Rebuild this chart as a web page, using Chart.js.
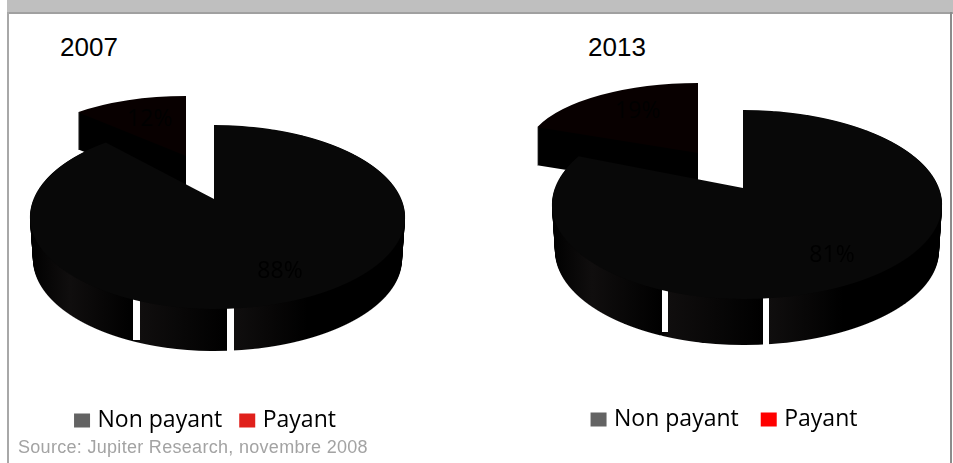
<!DOCTYPE html>
<html lang="fr">
<head>
<meta charset="utf-8">
<title>Non payant / Payant</title>
<script src="https://cdn.jsdelivr.net/npm/chart.js@4/dist/chart.umd.min.js"></script>
<style>
  html, body { margin: 0; padding: 0; background: #fff; overflow: hidden; }
  body { width: 953px; height: 463px; position: relative; }
  .band { position: absolute; left: 7px; top: 0; width: 946px; height: 12px; background: #bfbfbf; border-bottom: 2px solid #a0a0a0; }
  .side-left { position: absolute; left: 7px; top: 12px; width: 2px; height: 451px; background: #a8a8a8; }
  .side-right { position: absolute; left: 950px; top: 12px; width: 2px; height: 451px; background: #8c8c8c; }
  .year { position: absolute; top: 32px; font: 26px "Liberation Sans", sans-serif; color: #000; }
  #source { position: absolute; left: 18px; top: 437px; font: 18px "Liberation Sans", sans-serif; letter-spacing: 0.3px; color: #a3a3a3; white-space: nowrap; }
  canvas { position: absolute; top: 0; }
</style>
</head>
<body>
<div class="band"></div>
<div class="side-left"></div>
<div class="side-right"></div>
<div class="year" style="left:60px">2007</div>
<div class="year" style="left:588px">2013</div>
<canvas id="pie2007" width="414" height="444" style="left:0"></canvas>
<canvas id="pie2013" width="452" height="443" style="left:500px"></canvas>
<div id="source">Source: Jupiter Research, novembre 2008</div>

<script>
const categories = ['Non payant', 'Payant'];
const values2007 = [88, 12];
const values2013 = [81, 19];
const legendGrey = '#636363';
const legendRed2007 = '#e0201b';
const legendRed2013 = '#ff0000';

// near black faces, as in the picture
const faceMain = '#080808';
const facePaid = '#080000';
const wallDark = '#000000';
const wallLight = '#100e0e';

// fake 3D. The pulled out slice is just squashed. The main slice is drawn
// row by row with a perspective stretch, so the tip sits above the middle of
// the ellipse. x,y is the tip, left/right/up/down how far the rim is from it
function pie3d(chart, conf) {
  const ctx = chart.ctx;
  const arcs = chart.getDatasetMeta(0).data;
  const main = arcs[0];
  const paid = arcs[1];
  const w = chart.width;
  const h = chart.height;

  function withColor(arc, color, fn) {
    const saved = arc.options;
    arc.options = Object.assign(Object.create(saved), { backgroundColor: color });
    fn();
    arc.options = saved;
  }

  function drawSquashed(arc, p, dy, color) {
    withColor(arc, color, () => {
      ctx.save();
      ctx.translate(p.x, p.y + dy);
      ctx.scale(p.rx / arc.outerRadius, p.ry / arc.outerRadius);
      ctx.translate(-arc.x, -arc.y);
      arc.draw(ctx);
      ctx.restore();
    });
  }

  function drawRow(arc, m, row, dy, halfWidth, x0, x1, k, b) {
    const r = arc.outerRadius;
    const Y = row + 0.5;
    const v = Y / (b + k * Y);
    const q = 1 - k * v;
    const a = halfWidth * Math.sqrt(1 - k * k);
    ctx.save();
    ctx.beginPath();
    ctx.rect(x0, m.y + dy + row, x1 - x0, 1);
    ctx.clip();
    ctx.translate(m.x, m.y + dy + Y);
    ctx.scale(a / q / r, b / (q * q) / r);
    ctx.translate(-arc.x, -(arc.y + v * r));
    arc.draw(ctx);
    ctx.restore();
  }

  function drawMain(arc, m, fromRow, dy, shrink, color) {
    const k = (m.down - m.up) / (m.down + m.up);
    const b = m.down * (1 - k);
    withColor(arc, color, () => {
      for (let row = fromRow; row < m.down; row++) {
        drawRow(arc, m, row, dy, m.left - shrink, 0, m.x, k, b);
        drawRow(arc, m, row, dy, m.right - shrink, m.x, w, k, b);
      }
    });
  }

  // pulled out slice
  const p = conf.paid;
  for (let d = p.depth; d > 0; d--) {
    drawSquashed(paid, p, d, wallDark);
  }
  drawSquashed(paid, p, 0, facePaid);

  // main slice, wall first
  const m = conf.main;
  const bottom = m.y + m.down + m.depth + 1;
  for (let d = m.depth; d > 0; d--) {
    drawMain(main, m, 0, d, 3 * d / m.depth, wallDark);
  }

  // soft vertical bands on the wall, restarting after each gap
  const x0 = m.x - m.left;
  const span = m.left + m.right;
  const shade = ctx.createLinearGradient(x0, 0, x0 + span, 0);
  const stop = x => Math.min(1, Math.max(0, (x - x0) / span));
  shade.addColorStop(0, wallDark);
  shade.addColorStop(stop(x0 + 40), wallLight);
  conf.gaps.forEach(g => {
    shade.addColorStop(stop(g.x), wallDark);
    shade.addColorStop(stop(g.x + g.w), wallLight);
  });
  const last = conf.gaps[conf.gaps.length - 1];
  shade.addColorStop(stop(last.x + 80), wallDark);
  shade.addColorStop(1, wallDark);
  ctx.save();
  ctx.globalCompositeOperation = 'source-atop';
  ctx.fillStyle = shade;
  ctx.fillRect(0, m.y, w, bottom - m.y);
  ctx.restore();

  ctx.fillStyle = '#fff';
  conf.gaps.forEach(g => ctx.fillRect(g.x, g.y, g.w, g.h));

  drawMain(main, m, -m.up, 0, 0, faceMain);

  ctx.fillStyle = '#000';
  ctx.font = '23px "Open Sans", sans-serif';
  ctx.textAlign = 'center';
  ctx.textBaseline = 'middle';
  chart.data.datasets[0].data.forEach((v, i) => {
    ctx.fillText(v + '%', conf.labels[i].x, conf.labels[i].y);
  });
}

const pie3dPlugin = {
  id: 'pie3d',
  beforeDatasetsDraw(chart, args, opts) {
    pie3d(chart, opts);
    return false;
  }
};

function makePie(id, values, red, legendGap, conf) {
  new Chart(document.getElementById(id), {
    type: 'pie',
    data: {
      labels: categories,
      datasets: [{ data: values, backgroundColor: [faceMain, facePaid], borderWidth: 0 }]
    },
    plugins: [pie3dPlugin],
    options: {
      responsive: false,
      animation: false,
      layout: { padding: { bottom: 2 } },
      plugins: {
        tooltip: { enabled: false },
        pie3d: conf,
        legend: {
          position: 'bottom',
          labels: {
            // small box + thick stroke gives a 16x14 swatch close to the text
            boxWidth: 8,
            boxHeight: 6,
            padding: legendGap,
            color: '#000',
            font: { family: '"Open Sans", sans-serif', size: 23 },
            generateLabels: () => categories.map((c, i) => ({
              text: c,
              fillStyle: i === 0 ? legendGrey : red,
              strokeStyle: i === 0 ? legendGrey : red,
              lineWidth: 8,
              index: i
            }))
          }
        }
      }
    }
  });
}

makePie('pie2007', values2007, legendRed2007, 21, {
  main: { x: 214, y: 199, left: 184, right: 191, up: 74, down: 110, depth: 42 },
  paid: { x: 186, y: 156, rx: 158, ry: 60, depth: 37 },
  gaps: [{ x: 133, y: 295, w: 7, h: 45 }, { x: 227, y: 300, w: 7, h: 52 }],
  labels: [{ x: 280, y: 271 }, { x: 150, y: 119 }]
});

makePie('pie2013', values2013, legendRed2013, 26, {
  main: { x: 243, y: 188, left: 191, right: 199, up: 78, down: 111, depth: 46 },
  paid: { x: 198, y: 153, rx: 173, ry: 70, depth: 38 },
  gaps: [{ x: 162, y: 285, w: 6, h: 47 }, { x: 263, y: 290, w: 6, h: 56 }],
  labels: [{ x: 332, y: 255 }, { x: 138, y: 111 }]
});
</script>
</body>
</html>
